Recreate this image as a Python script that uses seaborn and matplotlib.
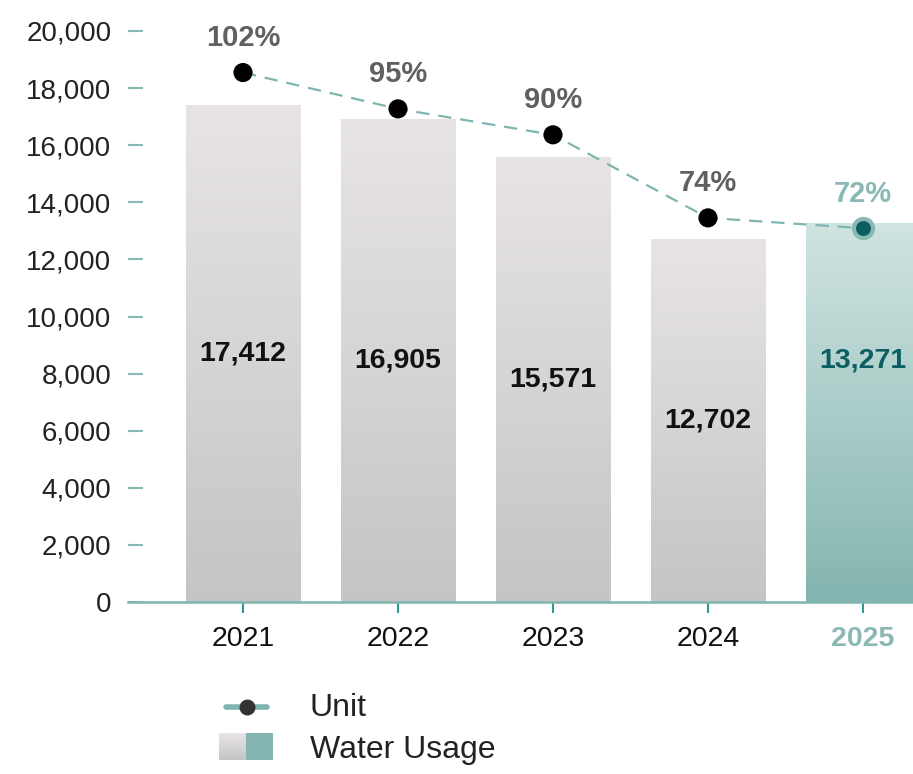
import numpy as np
import pandas as pd
import seaborn as sns
import matplotlib.pyplot as plt
from matplotlib.colors import LinearSegmentedColormap
from matplotlib.patches import Rectangle

# datos del grafico
years = ["2021", "2022", "2023", "2024", "2025"]
usage = [17412, 16905, 15571, 12702, 13271]
unit_pct = [102, 95, 90, 74, 72]
y_ticks = [0, 2000, 4000, 6000, 8000, 10000, 12000, 14000, 16000, 18000, 20000]

sns.set_theme(style="white")
plt.rcParams['font.family'] = ['Liberation Sans', 'DejaVu Sans']

gray_top, gray_bot = '#e8e4e4', '#c5c5c5'
teal_top, teal_bot = '#d0e4e1', '#84b5b0'
line_col = '#7fb5b0'
teal_light = '#8ab8b4'
teal_dark = '#0b5f63'

fig = plt.figure(figsize=(9.13, 7.74), dpi=100)
ax = fig.add_axes([128 / 913, 172 / 774, 785 / 913, 571 / 774])

df = pd.DataFrame({'year': years, 'usage': usage, 'pct': unit_pct})
sns.barplot(data=df, x='year', y='usage', color='white', width=0.74, ax=ax, saturation=1)

# relleno con degradado
grad = np.linspace(0, 1, 256).reshape(-1, 1)
for i, p in enumerate(ax.patches):
    x0, y0, w, h = p.get_x(), p.get_y(), p.get_width(), p.get_height()
    top, bot = (teal_top, teal_bot) if i == len(years) - 1 else (gray_top, gray_bot)
    cmap = LinearSegmentedColormap.from_list('g%d' % i, [top, bot])
    im = ax.imshow(grad, cmap=cmap, extent=[x0, x0 + w, y0, y0 + h],
                   aspect='auto', origin='upper', zorder=1)
    im.set_clip_path(p)
    p.set_facecolor('none')
    p.set_edgecolor('none')

ax.set_xlim(-0.742, 4.323)
ax.set_ylim(0, 20000)

# etiquetas de valor (la ultima barra va un poco mas arriba, como en el original)
for i, v in enumerate(usage):
    if i == len(years) - 1:
        c, ypos = teal_dark, 8470
    else:
        c, ypos = '#111111', v / 2
    ax.text(i, ypos, f'{v:,}', ha='center', va='center', fontsize=20.5,
            fontweight='bold', color=c, zorder=5)

ax.set_yticks(y_ticks)
ax.set_yticklabels([f'{t:,}' for t in y_ticks], fontsize=20, color='#222222')
ax.set_xticks(range(len(years)))
ax.set_xticklabels(years, fontsize=20.5, color='#111111')
ax.set_xlabel('')
ax.set_ylabel('')

ax.tick_params(axis='y', direction='in', length=11, width=1.5, colors=teal_light,
               labelcolor='#222222', pad=12, left=True)
ax.tick_params(axis='x', direction='out', length=8, width=1.5, colors='#2a9a92',
               labelcolor='#111111', pad=9, bottom=True)
lbl = ax.get_xticklabels()[-1]
lbl.set_color(teal_light)
lbl.set_fontweight('bold')
for s in ['left', 'top', 'right']:
    ax.spines[s].set_visible(False)
ax.spines['bottom'].set_color(line_col)
ax.spines['bottom'].set_linewidth(1.8)
ax.grid(False)

# linea de porcentajes en eje secundario
ax2 = ax.twinx()
xs = np.arange(len(years))
sns.lineplot(x=xs, y=unit_pct, ax=ax2, color=line_col, lw=1.6, zorder=3)
ax2.lines[0].set_dashes([6, 4])
sns.scatterplot(x=xs[:-1], y=unit_pct[:-1], ax=ax2, color='black', s=190,
                edgecolor='none', zorder=4)
sns.scatterplot(x=xs[-1:], y=unit_pct[-1:], ax=ax2, color=teal_dark, s=190,
                edgecolor=teal_light, linewidth=3, zorder=4)
ax2.set_xlim(-0.742, 4.323)
ax2.set_ylim(0, 110)
ax2.axis('off')

for i, pct in enumerate(unit_pct):
    c = teal_light if i == len(years) - 1 else '#606060'
    ax2.annotate(f'{pct}%', (i, pct), xytext=(0, 25), textcoords='offset points',
                 ha='center', va='center', fontsize=21, fontweight='bold', color=c)

# leyenda manual
lax = fig.add_axes([0, 0, 1, 116 / 774])
lax.axis('off')
lax.plot([226, 267], [707, 707], color=line_col, lw=4, solid_capstyle='round')
lax.scatter([247], [707], s=110, color='#333333', zorder=3)
cmap_l = LinearSegmentedColormap.from_list('lg', [gray_top, gray_bot])
lax.imshow(grad, cmap=cmap_l, extent=[219, 246, 760, 733], aspect='auto', origin='upper')
lax.add_patch(Rectangle((246, 733), 27, 27, color=teal_bot, lw=0))
lax.set_xlim(0, 913)
lax.set_ylim(774, 658)
lax.text(310, 708, 'Unit', fontsize=23, va='center', color='#222222')
lax.text(310, 750, 'Water Usage', fontsize=23, va='center', color='#222222')

fig.savefig('out.png', dpi=100)
